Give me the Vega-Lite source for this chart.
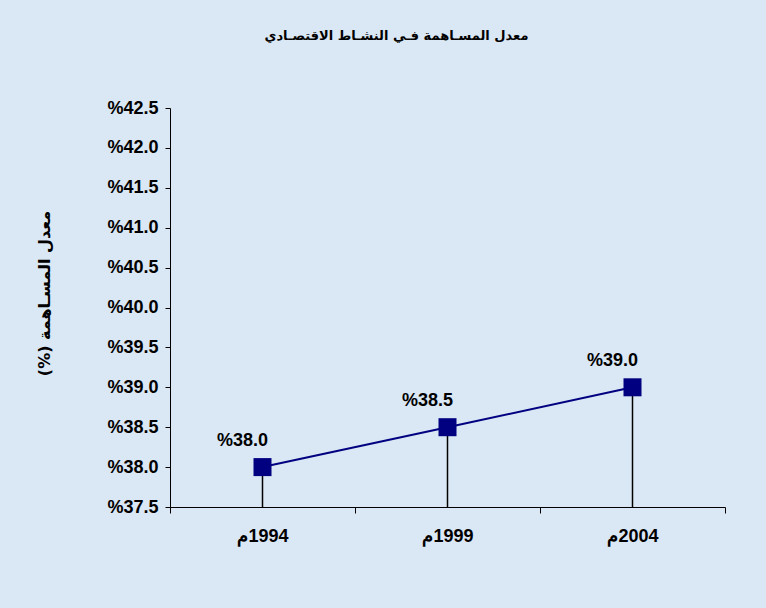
{
  "$schema": "https://vega.github.io/schema/vega-lite/v6.json",
  "width": 555,
  "height": 399,
  "autosize": {"type": "none"},
  "padding": {"left": 170, "top": 108, "right": 41, "bottom": 101},
  "background": "#dae7f4",
  "config": {
    "view": {"stroke": null},
    "font": "Liberation Sans"
  },
  "title": {
    "text": "معدل المسـاهمة فـي النشـاط الاقتصـادي",
    "font": "DejaVu Sans",
    "fontSize": 13,
    "fontWeight": "bold",
    "color": "#000000",
    "anchor": "middle",
    "offset": 56,
    "dx": -51
  },
  "data": {
    "values": [
      {"year": "م\u200e1994", "rate": 38.0},
      {"year": "م\u200e1999", "rate": 38.5},
      {"year": "م\u200e2004", "rate": 39.0}
    ]
  },
  "encoding": {
    "x": {
      "field": "year",
      "type": "ordinal",
      "sort": null,
      "scale": {"paddingInner": 0, "paddingOuter": 0},
      "axis": {
        "title": null,
        "labelAngle": 0,
        "labelFont": "Liberation Sans",
        "labelFontSize": 18,
        "labelFontWeight": "bold",
        "labelColor": "#000000",
        "labelPadding": 14,
        "tickBand": "extent",
        "tickSize": 6,
        "tickColor": "#000000",
        "domainColor": "#000000",
        "domainWidth": 1,
        "tickWidth": 1
      }
    },
    "y": {
      "field": "rate",
      "type": "quantitative",
      "scale": {"domain": [37.5, 42.5], "nice": false, "zero": false},
      "axis": {
        "values": [37.5, 38, 38.5, 39, 39.5, 40, 40.5, 41, 41.5, 42, 42.5],
        "labelExpr": "'%' + format(datum.value, '.1f')",
        "title": "\u200fمعدل المسـاهمة (%)\u200f",
        "titleFont": "DejaVu Sans",
        "titleFontSize": 16,
        "titleFontWeight": "bold",
        "titleColor": "#000000",
        "titleX": -118,
        "titleY": 185,
        "labelFont": "Liberation Sans",
        "labelFontSize": 18,
        "labelFontWeight": "bold",
        "labelColor": "#000000",
        "labelPadding": 7,
        "tickSize": 5,
        "tickColor": "#000000",
        "domainColor": "#000000",
        "grid": false
      }
    }
  },
  "layer": [
    {
      "mark": {"type": "rule", "color": "#000000", "strokeWidth": 1.5},
      "encoding": {"y2": {"datum": 37.5}}
    },
    {
      "mark": {"type": "line", "color": "#000080", "strokeWidth": 2}
    },
    {
      "mark": {"type": "square", "size": 324, "color": "#000080", "opacity": 1, "filled": true}
    },
    {
      "transform": [{"calculate": "'%' + format(datum.rate, '.1f')", "as": "label"}],
      "mark": {"type": "text", "font": "Liberation Sans", "fontSize": 18, "fontWeight": "bold", "color": "#000000", "dx": -20, "dy": -26},
      "encoding": {"text": {"field": "label", "type": "nominal"}}
    }
  ]
}
